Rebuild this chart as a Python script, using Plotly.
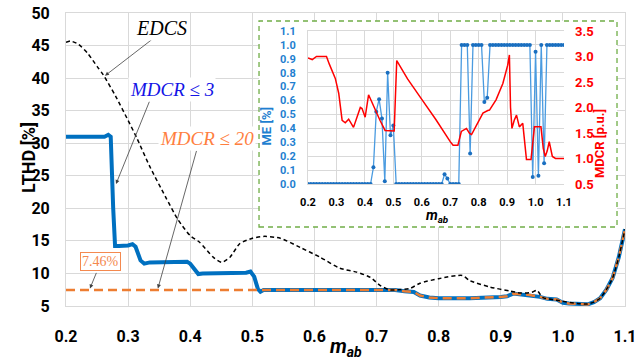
import plotly.graph_objects as go

# ---------------- main chart data ----------------
edcs_x = [0.20, 0.207, 0.22, 0.235, 0.25, 0.26, 0.28, 0.30, 0.314, 0.335, 0.36, 0.38, 0.40, 0.415,
          0.437, 0.451, 0.464, 0.48, 0.50, 0.52, 0.545, 0.577, 0.609, 0.641, 0.668, 0.69, 0.705,
          0.72, 0.735, 0.754, 0.77, 0.80, 0.838, 0.85, 0.883, 0.915, 0.931, 0.95, 0.958, 0.968,
          0.995, 1.023, 1.04, 1.05, 1.06, 1.07, 1.08, 1.09, 1.10]
edcs_y = [45.5, 45.7, 45.2, 43.8, 41.8, 40.5, 37.2, 33.5, 30.8, 26.4, 21.8, 18.3, 15.8, 14.8,
          12.5, 11.7, 12.5, 14.6, 15.4, 15.7, 15.4, 14.0, 12.5, 10.8, 10.2, 9.4, 8.2,
          7.5, 7.5, 7.7, 8.5, 9.2, 9.7, 8.9, 7.9, 7.3, 7.0, 7.1, 7.4, 6.3,
          5.8, 5.4, 5.3, 5.6, 6.2, 7.5, 9.3, 12.5, 16.8]

mdcr3_x = [0.20, 0.262, 0.268, 0.272, 0.276, 0.279, 0.285, 0.30, 0.307, 0.312, 0.32, 0.326, 0.335,
           0.395, 0.40, 0.408, 0.413, 0.42, 0.49, 0.497, 0.503, 0.509, 0.513, 0.518, 0.73, 0.745,
           0.76, 0.77, 0.785, 0.80, 0.85, 0.90, 0.91, 0.92, 0.93, 0.947, 0.963, 0.975, 0.99, 1.0,
           1.01, 1.04, 1.05, 1.06, 1.07, 1.08, 1.09, 1.10]
mdcr3_y = [31.0, 31.0, 31.3, 31.0, 20.0, 14.2, 14.2, 14.3, 14.5, 14.1, 12.0, 11.5, 11.7,
           11.8, 11.5, 10.4, 9.9, 10.0, 10.1, 10.3, 9.5, 7.6, 7.2, 7.46, 7.46, 7.25,
           7.15, 6.6, 6.3, 6.2, 6.2, 6.4, 6.5, 6.9, 6.8, 6.7, 6.4, 6.1, 6.0, 5.5,
           5.4, 5.25, 5.6, 6.2, 7.5, 9.3, 12.5, 16.8]

mdcr20_x = [0.20, 0.73, 0.745, 0.76, 0.77, 0.785, 0.80, 0.85, 0.90, 0.91, 0.92, 0.93, 0.947, 0.963,
            0.975, 0.99, 1.0, 1.01, 1.04, 1.05, 1.06, 1.07, 1.08, 1.09, 1.10]
mdcr20_y = [7.46, 7.46, 7.25, 7.15, 6.6, 6.3, 6.2, 6.2, 6.4, 6.5, 6.9, 6.8, 6.7, 6.4,
            6.1, 6.0, 5.5, 5.4, 5.25, 5.6, 6.2, 7.5, 9.3, 12.5, 16.8]

# ---------------- inset data ----------------
me_x = [0.20, 0.21, 0.22, 0.23, 0.24, 0.25, 0.26, 0.27, 0.28, 0.29, 0.30, 0.31, 0.32, 0.33, 0.34,
        0.35, 0.36, 0.37, 0.38, 0.39, 0.40, 0.41, 0.42, 0.43, 0.44, 0.45, 0.46, 0.47, 0.48, 0.49,
        0.50, 0.51, 0.52, 0.53, 0.54, 0.55, 0.56, 0.57, 0.58, 0.59, 0.60, 0.61, 0.62, 0.63, 0.64,
        0.65, 0.66, 0.67, 0.68, 0.69, 0.70, 0.71, 0.72, 0.73, 0.74, 0.75, 0.76, 0.77, 0.78, 0.79,
        0.80, 0.81, 0.82, 0.83, 0.84, 0.85, 0.86, 0.87, 0.88, 0.89, 0.90, 0.91, 0.92, 0.93, 0.94,
        0.95, 0.96, 0.97, 0.98, 0.99, 1.00, 1.01, 1.02, 1.03, 1.04, 1.05, 1.06, 1.07, 1.08, 1.09,
        1.10]
me_y = [0, 0, 0, 0, 0, 0, 0, 0, 0, 0, 0, 0, 0, 0, 0,
        0, 0, 0, 0, 0, 0, 0, 0, 0.12, 0.52, 0.61, 0.47, 0.02, 0.80, 0.35,
        0.42, 0, 0, 0, 0, 0, 0, 0, 0, 0, 0, 0, 0, 0, 0,
        0, 0, 0, 0.07, 0.04, 0, 0, 0, 0, 1.0, 1.0, 1.0, 0.22, 1.0, 1.0,
        1.0, 1.0, 0.59, 0.62, 1.0, 1.0, 1.0, 1.0, 1.0, 1.0, 1.0, 1.0, 1.0, 1.0, 1.0,
        1.0, 1.0, 1.0, 1.0, 0.05, 0.95, 0.06, 1.0, 0.15, 1.0, 1.0, 1.0, 1.0, 1.0, 1.0,
        1.0]

mdcr_x = [0.20, 0.215, 0.23, 0.265, 0.275, 0.285, 0.296, 0.308, 0.32, 0.331, 0.343, 0.36, 0.374,
          0.384, 0.39, 0.401, 0.413, 0.424, 0.436, 0.453, 0.471, 0.50, 0.503, 0.512, 0.55, 0.60,
          0.65, 0.70, 0.71, 0.727, 0.739, 0.757, 0.768, 0.775, 0.792, 0.815, 0.832, 0.838, 0.861,
          0.885, 0.902, 0.908, 0.912, 0.917, 0.925, 0.933, 0.943, 0.955, 0.968, 0.984, 0.996,
          1.019, 1.027, 1.034, 1.041, 1.048, 1.059, 1.07, 1.10]
mdcr_y = [2.97, 2.94, 3.0, 3.0, 2.85, 2.70, 2.57, 2.28, 1.75, 1.70, 1.77, 1.61, 1.82,
          2.0, 1.98, 1.81, 2.25, 2.11, 1.95, 1.75, 1.55, 1.54, 1.54, 2.92, 2.56, 2.16,
          1.76, 1.33, 1.26, 1.26, 1.53, 1.59, 1.49, 1.47, 1.66, 1.89, 1.94, 1.95, 2.15,
          2.47, 2.83, 3.03, 2.0, 1.59, 1.75, 1.85, 1.62, 1.69, 0.98, 0.98, 1.62,
          1.62, 1.2, 1.04, 1.15, 1.33, 1.04, 1.0, 1.0]

BLUE = "#0070C0"
ORANGE = "#ED7D31"
INBLUE = "#1F7FD0"
RED = "#FF0000"
GRID = "#D9D9D9"
FONT = "Roboto"
SERIF = "Liberation Serif"

fig = go.Figure()

# main traces
fig.add_trace(go.Scatter(x=mdcr3_x, y=mdcr3_y, mode="lines", line=dict(color=BLUE, width=4),
                         xaxis="x", yaxis="y", hoverinfo="skip", showlegend=False))
fig.add_trace(go.Scatter(x=mdcr20_x, y=mdcr20_y, mode="lines",
                         line=dict(color=ORANGE, width=2.5, dash="9px,5px"),
                         xaxis="x", yaxis="y", hoverinfo="skip", showlegend=False))
fig.add_trace(go.Scatter(x=edcs_x, y=edcs_y, mode="lines", line_shape="spline",
                         line=dict(color="black", width=1.5, dash="4px,3px", smoothing=0.6),
                         xaxis="x", yaxis="y", hoverinfo="skip", showlegend=False))

# white backing for the inset box
fig.add_trace(go.Scatter(x=[0, 1, 1, 0, 0], y=[0, 0, 1, 1, 0], mode="lines", fill="toself",
                         fillcolor="white", line=dict(width=0, color="white"),
                         xaxis="x2", yaxis="y2", hoverinfo="skip", showlegend=False))

# inset traces
fig.add_trace(go.Scatter(x=me_x, y=me_y, mode="lines+markers",
                         line=dict(color="#4A9BE0", width=1.3),
                         marker=dict(color="#1A6FC0", size=4),
                         xaxis="x3", yaxis="y3", hoverinfo="skip", showlegend=False))
fig.add_trace(go.Scatter(x=mdcr_x, y=mdcr_y, mode="lines", line=dict(color=RED, width=1.5),
                         xaxis="x3", yaxis="y4", hoverinfo="skip", showlegend=False))

tickf = dict(family=FONT, size=16, color="black", weight="bold")
inf = dict(family=FONT, size=11, weight="bold")

fig.update_layout(
    width=637, height=362,
    margin=dict(l=66, r=12, t=13, b=56),
    paper_bgcolor="white", plot_bgcolor="white",
    xaxis=dict(domain=[0, 1], range=[0.2, 1.1], dtick=0.1, tick0=0.2, tickformat=".1f",
               showgrid=True, gridcolor=GRID, zeroline=False, showline=True, linecolor=GRID,
               mirror=True, tickfont=tickf, ticks="", ticklabelstandoff=16, automargin=False),
    yaxis=dict(domain=[0, 1], range=[5, 50], dtick=5, showgrid=True, gridcolor=GRID,
               zeroline=False, showline=True, linecolor=GRID, mirror=True,
               tickfont=tickf, ticks="", ticklabelstandoff=12, automargin=False),
    xaxis2=dict(domain=[0.3453, 0.9857], range=[0, 1], visible=False, fixedrange=True),
    yaxis2=dict(domain=[0.2696, 0.9727], range=[0, 1], visible=False, fixedrange=True),
    xaxis3=dict(domain=[0.4329, 0.8909], range=[0.2, 1.1], dtick=0.1, tick0=0.2,
                tickformat=".1f", showgrid=True, gridcolor=GRID, zeroline=False,
                showline=True, linecolor=GRID, mirror=True, anchor="y3", automargin=False,
                tickfont=dict(inf, color="black"), ticks="", ticklabelstandoff=8),
    yaxis3=dict(domain=[0.4164, 0.9386], range=[0, 1.1], dtick=0.1, tickformat=".1f",
                showgrid=True, gridcolor=GRID, zeroline=False, showline=True, linecolor=GRID,
                anchor="x3", tickfont=dict(inf, color=INBLUE), ticks="", ticklabelstandoff=9,
                automargin=False),
    yaxis4=dict(range=[0.5, 3.5], dtick=0.5, tickformat=".1f", overlaying="y3", side="right",
                anchor="x3", showgrid=False, zeroline=False, showline=False, automargin=False,
                tickfont=dict(inf, color=RED, size=13), ticks="", ticklabelstandoff=10),
)

arrow = dict(showarrow=True, arrowhead=2, arrowsize=1, arrowwidth=0.8, arrowcolor="#404040",
             text="", standoff=0, xref="x", yref="y")
anns = [
    # arrows (tail offsets in px)
    dict(arrow, x=0.2628, y=40.37, ax=48, ay=-37),
    dict(arrow, x=0.2805, y=23.73, ax=34, ay=-84),
    dict(arrow, x=0.348, y=7.70, ax=39, ay=-139),
    dict(arrow, x=0.2386, y=7.70, ax=7, ay=-17),
    # labels
    dict(x=0.353, y=47.77, xref="x", yref="y", text="<i>EDCS</i>", showarrow=False,
         font=dict(family=SERIF, size=20, color="black"), bgcolor="white"),
    dict(x=0.3707, y=38.21, xref="x", yref="y", text="<i>MDCR ≤ 3</i>", showarrow=False,
         font=dict(family=SERIF, size=19, color="#1414E6"), bgcolor="white"),
    dict(x=0.427, y=30.66, xref="x", yref="y", text="<i>MDCR ≤ 20</i>", showarrow=False,
         font=dict(family=SERIF, size=19, color="#FF7F3F"), bgcolor="white"),
    dict(x=0.2548, y=11.86, xref="x", yref="y", text="7.46%", showarrow=False,
         font=dict(family=SERIF, size=14, color="#F4894F"), bgcolor="white",
         bordercolor="#F4894F", borderwidth=1, borderpad=1),
    # axis titles
    dict(x=-0.0903, y=0.505, xref="paper", yref="paper", text="<b>LTHD [%]</b>",
         textangle=-90, showarrow=False, font=dict(family=FONT, size=18, color="black")),
    dict(x=0.5, y=-0.14, xref="paper", yref="paper", yanchor="middle",
         text="<b><i>m<sub>ab</sub></i></b>", showarrow=False,
         font=dict(family=FONT, size=20, color="black")),
    dict(x=0.3578, y=0.686, xref="paper", yref="paper", text="<b>ME [%]</b>",
         textangle=-90, showarrow=False, font=dict(family=FONT, size=13, color=INBLUE)),
    dict(x=0.9714, y=0.679, xref="paper", yref="paper", text="<b>MDCR [p.u.]</b>",
         textangle=-90, showarrow=False, font=dict(family=FONT, size=13, color=RED)),
    dict(x=0.6637, y=0.268, xref="paper", yref="paper", text="<b><i>m<sub>ab</sub></i></b>",
         showarrow=False, font=dict(family=FONT, size=14, color="black")),
]
fig.update_layout(annotations=anns)

fig.add_shape(type="rect", xref="paper", yref="paper", x0=0.3453, x1=0.9857, y0=0.2696,
              y1=0.9727, line=dict(color="#70AD47", width=1.3, dash="5px,4px"),
              fillcolor="rgba(0,0,0,0)", layer="above")

fig.write_html("out.html", post_script="document.body.style.margin='0px';",
               config={"displayModeBar": False})
